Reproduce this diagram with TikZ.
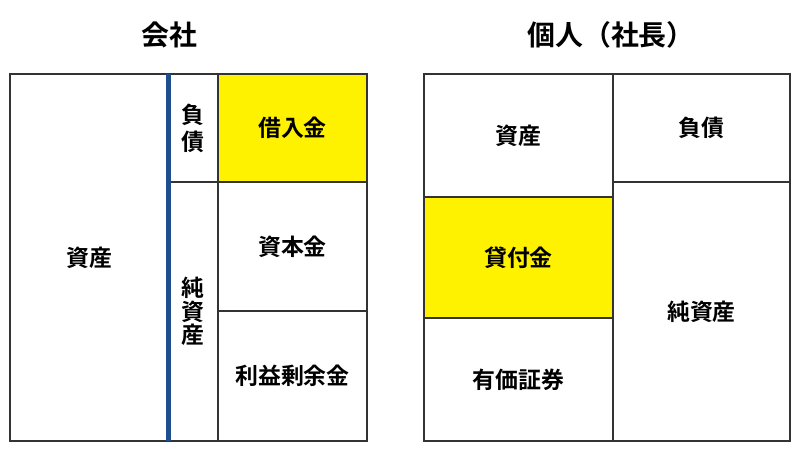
\documentclass[tikz,border=0pt]{standalone}
\usepackage{fontspec}
\newfontfamily\jp{Noto Sans CJK JP Bold}
\begin{document}
\begin{tikzpicture}[x=1bp,y=-1bp,
  cell/.style={draw=black!80, line width=1.2bp, inner sep=0pt, font=\jp\fontsize{23}{27}\selectfont, align=center},
  hl/.style={fill=yellow},
  ttl/.style={inner sep=0pt, font=\jp\fontsize{28}{32}\selectfont}]
\useasboundingbox (0,0) rectangle (800,451);
% left panel
\node[cell, minimum width=158bp, minimum height=367bp] (la) at (89,257.5) {資産};
\node[cell, minimum width=50bp, minimum height=108bp, font=\jp\fontsize{23}{27}\selectfont] (lf) at (193,128) {負\\債};
\node[cell, minimum width=50bp, minimum height=259bp, font=\jp\fontsize{23}{23.5}\selectfont] (ln) at (193,311.5) {純\\資\\産};
\node[cell, hl, minimum width=149bp, minimum height=108bp] (lk) at (292.5,128) {借入金};
\node[cell, minimum width=149bp, minimum height=129bp] (ls) at (292.5,246.5) {資本金};
\node[cell, minimum width=149bp, minimum height=130bp] (lr) at (292.5,376) {利益剰余金};
\coordinate (bt) at (168,74);
\coordinate (bb) at (168,441);
\draw[line width=5bp, draw={rgb,255:red,31;green,78;blue,140}] (bt) -- (bb);
% right panel
\node[cell, minimum width=189bp, minimum height=123bp] (ra) at (518.5,135.5) {資産};
\node[cell, hl, minimum width=189bp, minimum height=121bp] (rk) at (518.5,257.5) {貸付金};
\node[cell, minimum width=189bp, minimum height=123bp] (ry) at (518.5,379.5) {有価証券};
\node[cell, minimum width=177bp, minimum height=108bp] (rf) at (701.5,128) {負債};
\node[cell, minimum width=177bp, minimum height=259bp] (rn) at (701.5,311.5) {純資産};
% titles
\node[ttl] (t1) at (169,35) {会社};
\node[ttl] (t2) at (611,35) {個人（社長）};
\end{tikzpicture}
\end{document}
